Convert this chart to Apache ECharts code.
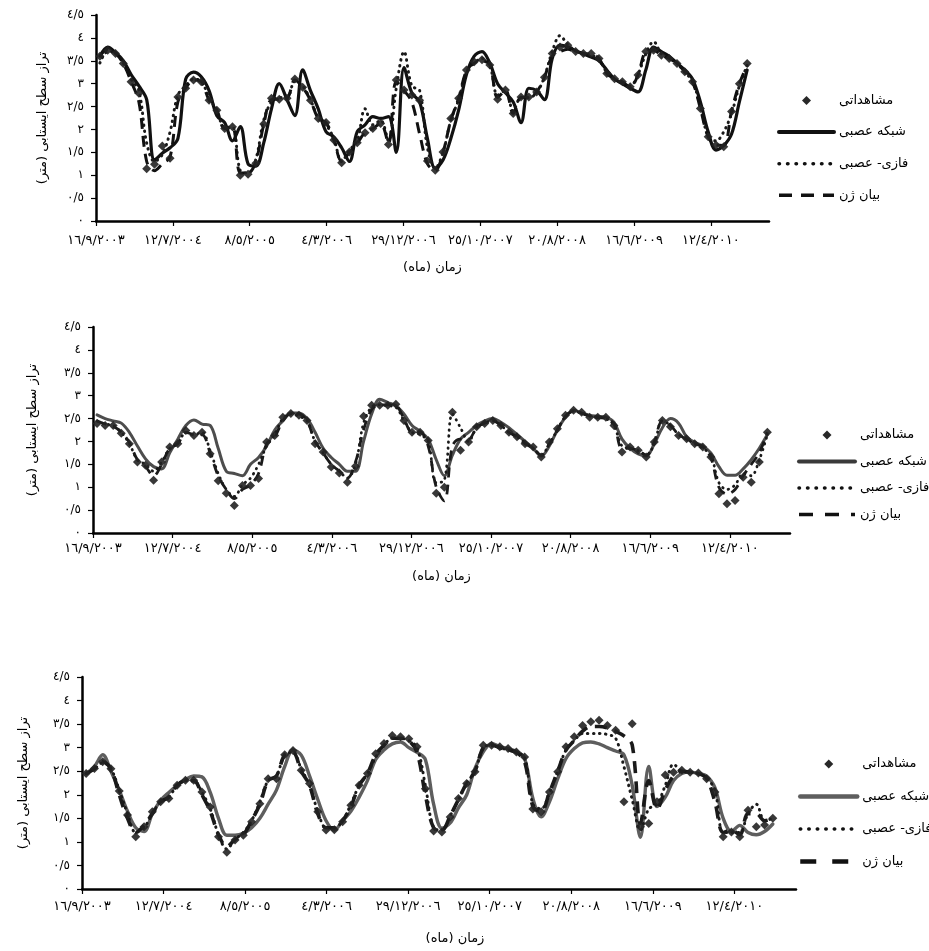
<!DOCTYPE html>
<html><head><meta charset="utf-8">
<script src="https://cdn.jsdelivr.net/npm/echarts@6/dist/echarts.min.js"></script>
<style>html,body{margin:0;padding:0;background:#fff}#c{width:929px;height:951px}</style>
</head><body><div id="c"></div><script>
// ---------- texts ----------
const xTickLabels = ['١٦/٩/٢٠٠٣','١٢/٧/٢٠٠٤','٨/٥/٢٠٠٥','٤/٣/٢٠٠٦','٢٩/١٢/٢٠٠٦','٢٥/١٠/٢٠٠٧','٢٠/٨/٢٠٠٨','١٦/٦/٢٠٠٩','١٢/٤/٢٠١٠'];
const yTickLabels = ['٠','٠/٥','١','١/٥','٢','٢/٥','٣','٣/٥','٤','٤/٥'];
const seriesNames = ['مشاهداتی','شبکه عصبی','فازی- عصبی','بیان ژن'];
const xAxisTitle = 'زمان (ماه)';
const yAxisTitle = 'تراز سطح ایستابی (متر)';

// ---------- panel 1 (monthly values, m) ----------
const p1Observed = [3.6,3.73,3.66,3.44,3.04,2.79,1.14,1.24,1.64,1.37,
 2.71,2.9,3.08,3.04,2.64,2.42,2.02,2.06,1.0,1.02,
 1.26,2.12,2.68,2.66,2.68,3.1,2.92,2.64,2.24,2.15,
 1.77,1.27,1.51,1.71,1.93,2.02,2.13,1.67,3.08,2.86,
 2.75,2.64,1.31,1.11,1.51,2.24,2.68,3.3,3.48,3.52,
 3.41,2.66,2.86,2.35,2.71,2.71,2.82,3.14,3.66,3.8,
 3.84,3.7,3.66,3.66,3.55,3.22,3.11,3.04,2.93,3.19,
 3.7,3.73,3.62,3.55,3.44,3.26,3.04,2.46,1.84,1.66,
 1.62,2.39,3.0,3.44];
const p1Ann = [3.6,3.8,3.68,3.5,3.2,2.95,2.65,1.33,1.48,1.6,
 1.8,3.1,3.25,3.15,2.85,2.3,2.15,1.75,2.06,1.25,
 1.2,1.7,2.45,3.0,2.65,2.3,3.3,2.85,2.45,1.95,
 1.84,1.6,1.3,1.95,2.1,2.28,2.24,2.28,1.5,3.35,
 2.8,2.6,1.8,1.15,1.33,1.8,2.42,3.2,3.6,3.7,
 3.45,3.0,2.8,2.6,2.15,2.9,2.85,2.65,3.55,3.84,
 3.8,3.72,3.65,3.58,3.5,3.3,3.1,3.0,2.9,2.82,
 3.3,3.8,3.7,3.6,3.45,3.3,3.1,2.6,1.95,1.55,
 1.65,1.9,2.6,3.3];
const p1Fuzzy = [3.45,3.7,3.68,3.45,3.1,2.85,1.7,1.3,1.45,1.95,
 2.75,2.95,3.1,3.05,2.7,2.4,2.05,2.05,1.1,1.05,
 1.35,2.2,2.6,2.7,2.7,3.05,2.95,2.65,2.25,2.1,
 1.8,1.3,1.55,1.75,2.45,2.1,2.2,1.75,2.9,3.7,
 2.95,2.85,1.6,1.15,1.5,2.2,2.65,3.25,3.45,3.55,
 3.4,2.75,2.85,2.4,2.7,2.7,2.8,3.15,3.7,4.05,
 3.85,3.72,3.65,3.62,3.52,3.25,3.1,3.02,2.95,3.2,
 3.65,3.92,3.65,3.55,3.45,3.25,3.05,2.5,1.85,1.75,
 1.95,2.35,2.95,3.4];
const p1Wavelet = [3.6,3.75,3.66,3.44,3.05,2.6,1.3,1.1,1.25,1.4,
 2.6,2.9,3.08,3.04,2.64,2.42,2.02,2.05,1.05,1.05,
 1.3,2.1,2.65,2.66,2.68,3.08,2.92,2.64,2.24,2.15,
 1.77,1.3,1.5,1.7,1.93,2.02,2.13,1.7,3.05,2.85,
 2.6,1.9,1.25,1.1,1.5,2.2,2.68,3.28,3.45,3.5,
 3.41,2.7,2.85,2.35,2.7,2.7,2.82,3.14,3.6,3.7,
 3.75,3.7,3.66,3.64,3.55,3.22,3.11,3.04,2.93,3.19,
 3.7,3.73,3.62,3.55,3.44,3.26,3.04,2.46,1.84,1.66,
 1.65,2.4,3.0,3.4];

// ---------- panel 2 ----------
const p2Observed = [2.39,2.35,2.35,2.18,1.95,1.55,1.48,1.15,1.55,1.88,
 1.95,2.24,2.13,2.2,1.73,1.14,0.87,0.6,1.04,1.04,
 1.19,1.99,2.13,2.53,2.61,2.57,2.46,1.95,1.77,1.44,
 1.31,1.11,1.46,2.55,2.79,2.79,2.79,2.81,2.46,2.2,
 2.2,2.02,0.87,1.0,2.64,1.81,1.99,2.32,2.39,2.46,
 2.35,2.2,2.1,1.95,1.88,1.66,1.99,2.28,2.57,2.68,
 2.64,2.53,2.53,2.53,2.35,1.77,1.88,1.81,1.66,1.99,
 2.46,2.32,2.13,2.06,1.95,1.88,1.66,0.86,0.64,0.71,
 1.22,1.11,1.55,2.2];
const p2Ann = [2.58,2.5,2.45,2.4,2.2,1.9,1.62,1.45,1.4,1.75,
 2.05,2.35,2.47,2.38,2.35,1.85,1.35,1.3,1.25,1.5,
 1.65,1.9,2.25,2.45,2.62,2.62,2.5,2.2,1.85,1.65,
 1.5,1.35,1.35,2.0,2.6,2.92,2.85,2.78,2.6,2.35,
 2.22,2.05,1.6,1.25,1.7,2.05,2.2,2.35,2.45,2.5,
 2.42,2.3,2.15,2.0,1.85,1.68,1.9,2.25,2.53,2.68,
 2.62,2.57,2.55,2.53,2.42,2.05,1.85,1.73,1.68,1.95,
 2.3,2.5,2.4,2.1,1.98,1.9,1.75,1.45,1.26,1.26,
 1.4,1.6,1.85,2.15];
const p2Fuzzy = [2.45,2.38,2.35,2.2,1.95,1.6,1.5,1.35,1.55,1.85,
 1.95,2.2,2.15,2.2,1.8,1.3,0.95,0.8,1.05,1.2,
 1.5,1.9,2.15,2.5,2.6,2.55,2.45,2.0,1.75,1.5,
 1.35,1.2,1.5,2.4,2.75,2.8,2.78,2.75,2.45,2.2,
 2.15,2.0,1.1,1.15,2.6,2.3,2.0,2.3,2.4,2.45,
 2.35,2.2,2.1,1.98,1.85,1.7,1.95,2.25,2.55,2.66,
 2.62,2.55,2.53,2.5,2.35,1.9,1.85,1.8,1.7,1.95,
 2.45,2.35,2.15,2.05,1.95,1.85,1.7,1.1,0.95,1.05,
 1.3,1.25,1.6,2.15];
const p2Wavelet = [2.45,2.38,2.33,2.2,1.98,1.6,1.45,1.25,1.5,1.85,
 1.95,2.2,2.15,2.15,1.75,1.25,0.95,0.75,0.95,1.05,
 1.3,1.95,2.1,2.45,2.6,2.6,2.45,2.0,1.75,1.5,
 1.35,1.2,1.55,2.25,2.7,2.8,2.8,2.78,2.5,2.2,
 2.2,1.9,1.0,0.7,1.9,2.05,2.05,2.3,2.4,2.45,
 2.35,2.2,2.1,1.95,1.85,1.7,1.95,2.25,2.55,2.66,
 2.62,2.55,2.52,2.5,2.38,1.85,1.85,1.8,1.7,2.0,
 2.45,2.35,2.15,2.05,1.95,1.88,1.65,1.0,0.85,0.95,
 1.25,1.5,1.75,2.2];

// ---------- panel 3 ----------
const p3Observed = [2.45,2.56,2.7,2.55,2.08,1.57,1.11,1.32,1.64,1.85,
 1.92,2.2,2.31,2.31,2.06,1.74,1.11,0.78,1.04,1.14,
 1.43,1.81,2.34,2.34,2.85,2.94,2.52,2.24,1.64,1.25,
 1.26,1.43,1.78,2.2,2.45,2.87,3.09,3.26,3.23,3.19,
 3.02,2.13,1.23,1.21,1.53,1.92,2.24,2.49,3.05,3.05,
 3.02,2.98,2.91,2.8,1.7,1.64,2.06,2.49,3.02,3.23,
 3.47,3.55,3.58,3.47,3.37,1.85,3.51,1.32,1.39,1.85,
 2.42,2.48,2.52,2.48,2.46,2.34,2.06,1.11,1.21,1.11,
 1.67,1.32,1.36,1.5];
const p3Ann = [2.45,2.6,2.85,2.5,2.1,1.65,1.3,1.22,1.6,1.88,
 2.05,2.2,2.32,2.4,2.38,2.05,1.5,1.14,1.14,1.18,
 1.3,1.5,1.8,2.1,2.6,2.95,2.84,2.4,1.9,1.45,
 1.25,1.45,1.65,1.95,2.3,2.75,2.95,3.08,3.12,3.0,
 2.9,2.75,1.8,1.29,1.4,1.72,2.0,2.56,2.91,3.09,
 3.02,2.98,2.92,2.77,1.92,1.53,1.85,2.34,2.77,2.98,
 3.1,3.12,3.08,3.0,2.93,2.85,2.2,1.1,2.6,1.75,
 1.95,2.3,2.45,2.48,2.45,2.4,2.15,1.5,1.22,1.35,
 1.2,1.15,1.22,1.38];
const p3Fuzzy = [2.45,2.55,2.68,2.55,2.1,1.6,1.2,1.3,1.6,1.85,
 1.95,2.2,2.3,2.3,2.05,1.7,1.15,0.85,1.05,1.2,
 1.45,1.85,2.3,2.4,2.85,2.9,2.55,2.2,1.65,1.3,
 1.3,1.45,1.8,2.2,2.45,2.8,3.05,3.2,3.2,3.15,
 3.0,2.2,1.3,1.25,1.55,1.9,2.25,2.5,3.0,3.05,
 3.0,2.95,2.9,2.8,1.8,1.7,2.05,2.5,2.95,3.15,
 3.3,3.3,3.3,3.28,3.2,2.6,1.9,1.25,1.7,1.8,
 2.2,2.65,2.5,2.48,2.45,2.35,2.1,1.2,1.2,1.2,
 1.6,1.8,1.45,1.5];
const p3Wavelet = [2.45,2.55,2.7,2.55,2.0,1.5,1.2,1.35,1.6,1.85,
 1.95,2.2,2.3,2.3,2.0,1.65,1.15,0.9,1.05,1.15,
 1.45,1.8,2.3,2.4,2.85,2.9,2.5,2.2,1.6,1.3,
 1.3,1.45,1.75,2.2,2.45,2.85,3.05,3.2,3.2,3.15,
 2.9,2.0,1.3,1.25,1.55,1.9,2.25,2.5,3.0,3.05,
 3.0,2.95,2.9,2.7,1.75,1.65,2.05,2.5,2.95,3.15,
 3.35,3.45,3.45,3.42,3.35,3.25,3.06,1.39,2.3,1.7,
 2.1,2.4,2.5,2.48,2.45,2.35,1.85,1.2,1.25,1.15,
 1.6,1.6,1.45,1.5];

// ---------- layout & style ----------
const FONT = "'DejaVu Sans', sans-serif";
const RLM = '\u200F';
const X_OFFSET = 0.5;                 // samples sit mid-month
const X_TICK_STEP = 300 / 30.4375;    // ticks every 300 days, axis in months
const X_MAX = 86.3;
const xTickValues = xTickLabels.map((_, k) => k * X_TICK_STEP);
const DIAMOND_ICON = 'path://M5,0L10,5L5,10L0,5Z';

const panels = [
  { grid:{left:96, top:15, width:673, height:206}, data:[p1Observed,p1Ann,p1Fuzzy,p1Wavelet],
    axisW:2.5, labelMargin:13, xNameGap:40, yNameGap:47, xNamePad:[0,0,0,0],
    ann:{color:'#111', width:3.2}, fz:{color:'#1a1a1a', width:3, type:[0.5,5.5]}, wv:{color:'#111', width:3, type:[11,7]},
    legend:{left:777, top:93.5, itemWidth:55, itemGap:17.6},
    legIcon:{ann:{color:'#111',width:4}, fz:{color:'#111',width:3.5,type:[0.5,8]}, wv:{color:'#111',width:3.5,type:[13,9]}} },
  { grid:{left:93, top:327, width:697, height:206}, data:[p2Observed,p2Ann,p2Fuzzy,p2Wavelet],
    axisW:2.5, labelMargin:9, xNameGap:37, yNameGap:54, xNamePad:[0,0,0,0],
    ann:{color:'#4d4d4d', width:3}, fz:{color:'#1a1a1a', width:2.8, type:[0.5,5.5]}, wv:{color:'#1a1a1a', width:2.8, type:[10,7]},
    legend:{left:797, top:428, itemWidth:56, itemGap:12.5},
    legIcon:{ann:{color:'#3a3a3a',width:4}, fz:{color:'#111',width:3.5,type:[0.5,8]}, wv:{color:'#111',width:3.5,type:[14,12]}} },
  { grid:{left:82, top:677, width:714, height:212}, data:[p3Observed,p3Ann,p3Fuzzy,p3Wavelet],
    axisW:2.5, labelMargin:11, xNameGap:43, yNameGap:52, xNamePad:[0,0,0,32],
    ann:{color:'#5e5e5e', width:3.4}, fz:{color:'#1a1a1a', width:3, type:[0.5,5.5]}, wv:{color:'#1a1a1a', width:3.6, type:[12,8]},
    legend:{left:798, top:757, itemWidth:57, itemGap:18.5},
    legIcon:{ann:{color:'#5e5e5e',width:4.5}, fz:{color:'#111',width:3.5,type:[0.5,8]}, wv:{color:'#111',width:4.5,type:[16,16]}} }
];

function pts(arr){ return arr.map((v, i) => [i + X_OFFSET, v]); }

const option = { animation:false, backgroundColor:'#fff', grid:[], xAxis:[], yAxis:[], series:[], legend:[] };

panels.forEach((p, k) => {
  option.grid.push(Object.assign({containLabel:false}, p.grid));
  option.xAxis.push({
    type:'value', gridIndex:k, min:0, max:X_MAX,
    name: xAxisTitle + RLM, nameLocation:'middle', nameGap:p.xNameGap,
    nameTextStyle:{fontFamily:FONT, fontSize:13, color:'#000', padding:p.xNamePad},
    axisLine:{show:true, onZero:false, lineStyle:{color:'#000', width:p.axisW}},
    axisTick:{show:true, inside:false, length:5, customValues:xTickValues, lineStyle:{color:'#000', width:1.2}},
    axisLabel:{show:true, customValues:xTickValues, margin:p.labelMargin, fontFamily:FONT, fontSize:13, color:'#000',
      formatter:(v) => { const idx = Math.round(v / X_TICK_STEP); return xTickLabels[idx] || ''; }},
    splitLine:{show:false}
  });
  option.yAxis.push({
    type:'value', gridIndex:k, min:0, max:4.5, interval:0.5,
    name: yAxisTitle + RLM, nameLocation:'middle', nameRotate:90, nameGap:p.yNameGap,
    nameTextStyle:{fontFamily:FONT, fontSize:13, color:'#000'},
    axisLine:{show:true, lineStyle:{color:'#000', width:p.axisW}},
    axisTick:{show:true, inside:false, length:5, lineStyle:{color:'#000', width:1.2}},
    axisLabel:{margin:12, fontFamily:FONT, fontSize:12, color:'#000',
      formatter:(v) => yTickLabels[Math.round(v / 0.5)] || ''},
    splitLine:{show:false}
  });
  const [obs, ann, fz, wv] = p.data;
  const lineBase = {type:'line', xAxisIndex:k, yAxisIndex:k, symbol:'none', smooth:0.35, z:2};
  option.series.push(Object.assign({}, lineBase, {name:seriesNames[1], data:pts(ann),
    lineStyle:{color:p.ann.color, width:p.ann.width, cap:'round', join:'round'}, itemStyle:{color:p.ann.color}}));
  option.series.push(Object.assign({}, lineBase, {name:seriesNames[2], data:pts(fz),
    lineStyle:{color:p.fz.color, width:p.fz.width, type:p.fz.type, cap:'round'}, itemStyle:{color:p.fz.color}}));
  option.series.push(Object.assign({}, lineBase, {name:seriesNames[3], data:pts(wv),
    lineStyle:{color:p.wv.color, width:p.wv.width, type:p.wv.type, cap:'butt'}, itemStyle:{color:p.wv.color}}));
  option.series.push({type:'scatter', name:seriesNames[0], xAxisIndex:k, yAxisIndex:k, data:pts(obs),
    symbol:'diamond', symbolSize:9, z:3, itemStyle:{color:'#222', opacity:0.9}});
  const hidden = {opacity:0, color:'rgba(0,0,0,0)', borderWidth:0};
  option.legend.push({
    orient:'vertical', left:p.legend.left, top:p.legend.top, padding:0,
    itemWidth:p.legend.itemWidth, itemHeight:9, symbolKeepAspect:true,
    itemGap:p.legend.itemGap, selectedMode:false,
    textStyle:{fontFamily:FONT, fontSize:13, color:'#000', lineHeight:14},
    data:[
      {name:seriesNames[0], icon:DIAMOND_ICON, itemStyle:{color:'#111'}},
      {name:seriesNames[1], lineStyle:p.legIcon.ann, itemStyle:hidden},
      {name:seriesNames[2], lineStyle:Object.assign({cap:'round'}, p.legIcon.fz), itemStyle:hidden},
      {name:seriesNames[3], lineStyle:p.legIcon.wv, itemStyle:hidden}
    ]
  });
});

const chart = echarts.init(document.getElementById('c'), null, {renderer:'canvas'});
chart.setOption(option);
</script></body></html>
